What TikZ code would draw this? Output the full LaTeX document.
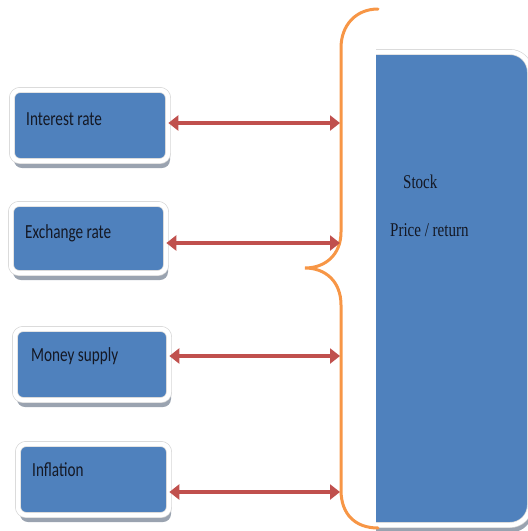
\documentclass[tikz,border=0pt]{standalone}
\usepackage{fontspec}
\usetikzlibrary{arrows.meta,shadows}
\newfontfamily\boxfont[FakeStretch=0.76]{Carlito}
\newfontfamily\stockfont[FakeStretch=0.77]{Liberation Serif}
\definecolor{boxblue}{HTML}{4F81BD}
\definecolor{rimgray}{HTML}{D6D6D6}
\definecolor{shadowgray}{HTML}{9AA3B0}
\definecolor{linkred}{HTML}{C0504D}
\definecolor{braceorange}{HTML}{F79646}
\definecolor{inkdark}{HTML}{141824}
\begin{document}
\begin{tikzpicture}[x=1pt,y=-1pt,
  factor/.style={draw=rimgray, line width=0.7pt, double=white,
    double distance=4.5pt, fill=boxblue, rounded corners=8pt, inner sep=0pt,
    general shadow={fill=shadowgray, shadow xshift=2pt, shadow yshift=-7pt}},
  factorlabel/.style={anchor=base west, inner sep=0pt, text=inkdark,
    font=\boxfont\fontsize{20}{24}\selectfont},
  stocklabel/.style={anchor=base west, inner sep=0pt, text=inkdark,
    font=\stockfont\fontsize{19.5}{24}\selectfont},
  link/.style={draw=linkred, line width=4pt,
    {Triangle[width=15pt,length=10pt]}-{Triangle[width=15pt,length=10pt]}},
  brace/.style={draw=braceorange, line width=3pt, line cap=round}]
\useasboundingbox (0,0) rectangle (528,531);

% the stock price / return panel, cut straight on its left side
\begin{scope}
  \clip (376,0) rectangle (528,531);
  \node[factor, rounded corners=20pt, minimum width=180pt,
        minimum height=473pt] (stock) at (440,288.5) {};
\end{scope}
\node[stocklabel] (stockt) at (403,188) {Stock};
\node[stocklabel] (pricet) at (390,236) {Price / return};

% the four factor boxes
\node[factor, minimum width=156pt, minimum height=71pt] (f1) at (90,125.5) {};
\node[factor, minimum width=155pt, minimum height=69pt] (f2) at (88.5,238.5) {};
\node[factor, minimum width=154pt, minimum height=71pt] (f3) at (92,364.5) {};
\node[factor, minimum width=151pt, minimum height=71pt] (f4) at (93.5,479.5) {};
\node[factorlabel] (t1) at (26,125) {Interest rate};
\node[factorlabel] (t2) at (25,238) {Exchange rate};
\node[factorlabel] (t3) at (31,361) {Money supply};
\node[factorlabel] (t4) at (32,476) {Inflation};

% curly brace gathering the factors
\draw[brace] (378,9) .. controls (356,9) and (341,25) .. (341,48)
  -- (341,232) .. controls (341,255) and (325,268) .. (305,268)
  .. controls (325,268) and (341,281) .. (341,305)
  -- (341,490) .. controls (341,515) and (356,528) .. (378,528);

% points where the links meet the brace
\coordinate (j1) at (340,123);
\coordinate (j2) at (340,243);
\coordinate (j3) at (340,356);
\coordinate (j4) at (340,492);

\draw[link] (j1 -| f1.east) -- (j1);
\draw[link] (j2 -| f2.east) -- (j2);
\draw[link] (j3 -| f3.east) -- (j3);
\draw[link] (j4 -| f4.east) -- (j4);
\end{tikzpicture}
\end{document}
